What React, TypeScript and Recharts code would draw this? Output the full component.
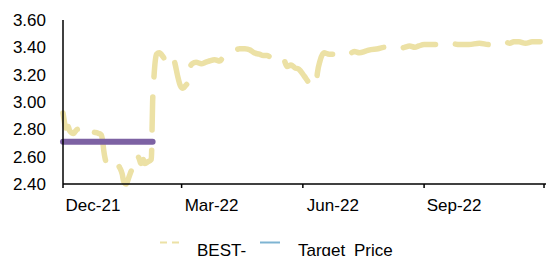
import React from 'react';
import { LineChart, Line, XAxis, YAxis } from 'recharts';

// days counted from 1 Dec 2021
const days = [
  0, 1, 2, 4, 5, 8, 9, 11, 12, 14, 17, 20, 23, 27, 29, 30, 31, 33, 34, 36, 39, 41, 43, 45, 46, 48,
  50, 52, 55, 56, 58, 59, 61, 62, 64, 67, 68, 69, 70, 71, 73, 76, 78, 80, 83, 85, 87, 89, 91, 93,
  95, 96, 98, 101, 105, 108, 111, 115, 119, 122, 125, 128, 131, 134, 138, 142, 145, 149, 152, 155,
  158, 161, 164, 167, 170, 173, 176, 179, 183, 187, 190, 192, 193, 195, 198, 202, 206, 210, 214,
  217, 221, 225, 229, 232, 239, 244, 248, 251, 255, 259, 263, 267, 270, 274, 280, 286, 293, 301,
  308, 316, 323, 327, 331, 335, 339, 342, 346, 351, 356, 360, 366,
];

const best = [
  2.92, 2.86, 2.81, 2.82, 2.79, 2.77, 2.78, 2.8, 2.78, 2.79, 2.78, 2.79, 2.78, 2.77, 2.76, 2.72,
  2.64, 2.56, 2.58, 2.57, 2.57, 2.55, 2.52, 2.47, 2.42, 2.4, 2.45, 2.5, 2.55, 2.61, 2.58, 2.55,
  2.58, 2.55, 2.56, 2.58, 3.0, 3.18, 3.3, 3.35, 3.36, 3.33, 3.3, 3.32, 3.34, 3.28, 3.19, 3.12,
  3.1, 3.12, 3.15, 3.24, 3.28, 3.29, 3.28, 3.29, 3.3, 3.31, 3.3, 3.34, 3.36, 3.37, 3.38, 3.39,
  3.39, 3.38, 3.36, 3.35, 3.34, 3.34, 3.32, 3.31, 3.3, 3.32, 3.26, 3.27, 3.25, 3.24, 3.19, 3.14,
  3.13, 3.12, 3.21, 3.3, 3.36, 3.35, 3.35, 3.35, 3.36, 3.35, 3.37, 3.36, 3.37, 3.38, 3.39, 3.4,
  3.4, 3.39, 3.39, 3.4, 3.41, 3.4, 3.41, 3.42, 3.42, 3.42, 3.43, 3.42, 3.42, 3.43, 3.42, 3.43,
  3.44, 3.44, 3.43, 3.44, 3.44, 3.43, 3.44, 3.44, 3.44,
];

const targetPrice = 2.71;
const targetEndDay = 68;

const tickDays = [0, 90, 182, 274, 365];
const tickLabels = ['Dec-21', 'Mar-22', 'Jun-22', 'Sep-22', ''];
const yTicks = [2.4, 2.6, 2.8, 3.0, 3.2, 3.4, 3.6];

const data = days.map((d, i) => ({
  day: d,
  best: best[i],
  target: d <= targetEndDay ? targetPrice : null,
}));

const FONT = '"Liberation Sans", Arial, sans-serif';
const BEIGE = '#ECE1A5';
const PURPLE = '#7D62A3';
const LEGEND_BLUE = '#7EB4D2';

const MonthTick = (props: any) => {
  const { x, y, payload } = props;
  const label = tickLabels[tickDays.indexOf(payload.value)];
  if (!label) return null;
  return (
    <text x={x + 30} y={y} dy="0.71em" textAnchor="middle" fontSize={17} fontFamily={FONT} fill="#000">
      {label}
    </text>
  );
};

export default function App() {
  return (
    <div style={{ position: 'absolute', left: 0, top: 0, width: 546, height: 256, background: '#fff' }}>
      <LineChart width={546} height={256} data={data} margin={{ top: 20, right: 0, left: 0, bottom: 0 }}>
        <XAxis
          dataKey="day"
          type="number"
          domain={[0, 366.5]}
          ticks={tickDays}
          tick={<MonthTick />}
          tickSize={4}
          tickMargin={11}
          height={72}
          axisLine={{ stroke: '#000', strokeWidth: 1.5 }}
          tickLine={{ stroke: '#000', strokeWidth: 1.5 }}
        />
        <YAxis
          type="number"
          domain={[2.4, 3.6]}
          ticks={yTicks}
          width={63}
          tickSize={0}
          tickMargin={17}
          tickLine={false}
          axisLine={{ stroke: '#000', strokeWidth: 1.5 }}
          tickFormatter={(v: number) => v.toFixed(2)}
          tick={{ fontSize: 17, fontFamily: FONT, fill: '#000' }}
        />
        <Line
          dataKey="best"
          type="monotone"
          stroke={BEIGE}
          strokeWidth={5.5}
          strokeLinecap="round"
          strokeLinejoin="round"
          strokeDasharray="33 20"
          dot={false}
          isAnimationActive={false}
        />
        <Line
          dataKey="target"
          type="linear"
          stroke={PURPLE}
          strokeWidth={6}
          strokeLinecap="round"
          dot={false}
          connectNulls={false}
          isAnimationActive={false}
        />
      </LineChart>
      <svg width={546} height={30} style={{ position: 'absolute', left: 0, top: 230 }}>
        <line x1={160} x2={180} y1={12.5} y2={12.5} stroke={BEIGE} strokeWidth={2} strokeDasharray="7 5" />
        <text x={197} y={25.5} fontSize={17} fontFamily={FONT} fill="#000">BEST-</text>
        <line x1={260} x2={280} y1={12.5} y2={12.5} stroke={LEGEND_BLUE} strokeWidth={2} />
        <text x={298} y={25.5} fontSize={17} fontFamily={FONT} fill="#000" wordSpacing={4}>Target Price</text>
      </svg>
    </div>
  );
}
